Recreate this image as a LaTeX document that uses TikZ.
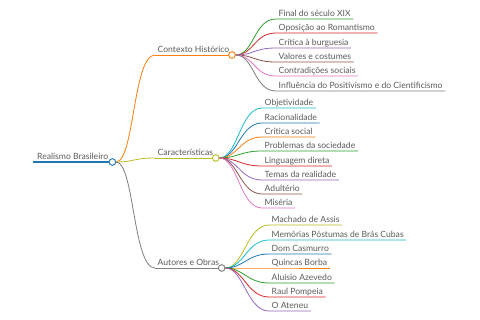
\documentclass[tikz,border=0pt]{standalone}
\usepackage{fontspec}
\setmainfont{Lato}
\usetikzlibrary{positioning}
\definecolor{cblue}{HTML}{1F77B4}
\definecolor{corange}{HTML}{FF7F0E}
\definecolor{cgreen}{HTML}{2CA02C}
\definecolor{cred}{HTML}{D62728}
\definecolor{cpurple}{HTML}{9467BD}
\definecolor{cbrown}{HTML}{8C564B}
\definecolor{cpink}{HTML}{E377C2}
\definecolor{cgray}{HTML}{7F7F7F}
\definecolor{colive}{HTML}{BCBD22}
\definecolor{ccyan}{HTML}{17BECF}
\definecolor{txtgray}{HTML}{5C5C5C}

\tikzset{
  topic/.style={anchor=south west, inner xsep=2.5pt, inner ysep=1pt,
    text height=1.6ex, text depth=0.3ex,
    font=\fontsize{8.6}{10}\selectfont, text=txtgray},
  knob/.style={circle, draw=#1, fill=white, line width=0.8pt,
    minimum size=6.5pt, inner sep=0pt},
  wire/.style={draw=#1, line width=0.8pt},
}

\begin{document}
\begin{tikzpicture}[x=1pt, y=-1pt]
  \useasboundingbox[fill=white] (0,0) rectangle (480,320);

  % Root
  \node[topic, inner xsep=4pt] (root) at (33,162) {Realismo Brasileiro};
  \draw[cblue, line width=1.3pt] (root.south west) -- (root.south east);
  \node[knob=cblue] (root-k) at (root.south east) {};

  % Branches
  \foreach \name/\lab/\y/\col in {ctx/Contexto Histórico/55/corange,
      car/Características/158/colive, aut/Autores e Obras/268/cgray} {
    \node[topic] (\name) at (155,\y) {\lab};
    \draw[wire=\col] (root-k) .. controls +(22,0) and +(-22,0) .. (\name.south west);
    \draw[wire=\col] (\name.south west) -- (\name.south east);
    \node[knob=\col] (\name-k) at (\name.south east) {};
  }

  % Contexto Historico leaves
  \foreach \lab/\y/\col [count=\i] in {Final do século XIX/19/cgreen,
      Oposição ao Romantismo/33/cred, Crítica à burguesia/48/cpurple,
      Valores e costumes/62/cbrown, Contradições sociais/76/cpink,
      Influência do Positivismo e do Cientificismo/91/cgray} {
    \node[topic] (ctx-\i) at (276,\y) {\lab};
    \draw[wire=\col] (ctx-k) .. controls +(22,0) and +(-22,0) .. (ctx-\i.south west)
      -- (ctx-\i.south east);
  }

  % Caracteristicas leaves
  \foreach \lab/\y/\col [count=\i] in {Objetividade/108/ccyan,
      Racionalidade/123/cblue, Crítica social/137/corange,
      Problemas da sociedade/151/cgreen, Linguagem direta/166/cred,
      Temas da realidade/180/cpurple, Adultério/194/cbrown, Miséria/208/cpink} {
    \node[topic] (car-\i) at (262,\y) {\lab};
    \draw[wire=\col] (car-k) .. controls +(22,0) and +(-22,0) .. (car-\i.south west)
      -- (car-\i.south east);
  }

  % Autores e Obras leaves
  \foreach \lab/\y/\col [count=\i] in {Machado de Assis/225/colive,
      Memórias Póstumas de Brás Cubas/240/ccyan, Dom Casmurro/254/cblue,
      Quincas Borba/268/corange, Aluísio Azevedo/283/cgreen,
      Raul Pompeia/297/cred, O Ateneu/311/cpurple} {
    \node[topic] (aut-\i) at (269,\y) {\lab};
    \draw[wire=\col] (aut-k) .. controls +(22,0) and +(-22,0) .. (aut-\i.south west)
      -- (aut-\i.south east);
  }

  % Knobs on top
  \foreach \name/\col in {root/cblue, ctx/corange, car/colive, aut/cgray}
    \node[knob=\col] at (\name-k) {};
\end{tikzpicture}
\end{document}
